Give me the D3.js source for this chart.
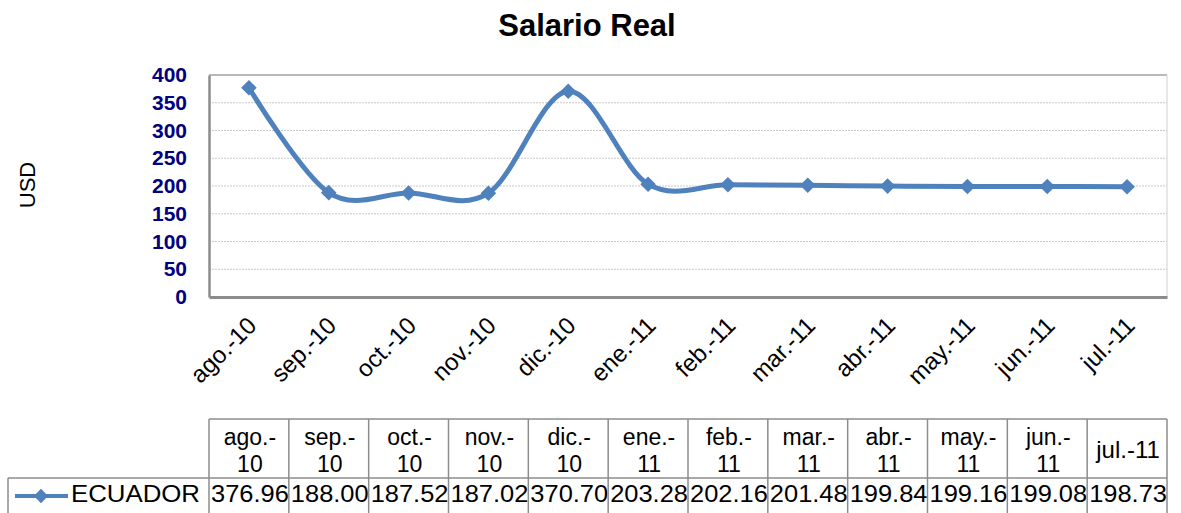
<!DOCTYPE html>
<html>
<head>
<meta charset="utf-8">
<script src="https://cdn.jsdelivr.net/npm/d3@7"></script>
<style>
  body { margin: 0; background: #fff; }
  svg { display: block; font-family: "Liberation Sans", Arial, sans-serif; }
</style>
</head>
<body>
<div id="chart"></div>
<script>
// Data
const months = ["ago.-10", "sep.-10", "oct.-10", "nov.-10", "dic.-10", "ene.-11",
  "feb.-11", "mar.-11", "abr.-11", "may.-11", "jun.-11", "jul.-11"];
const ecuador = [376.96, 188.00, 187.52, 187.02, 370.70, 203.28,
  202.16, 201.48, 199.84, 199.16, 199.08, 198.73];
const yTicks = [0, 50, 100, 150, 200, 250, 300, 350, 400];

const W = 1181, H = 513;
const plot = { left: 209, right: 1167, top: 75, bottom: 297 };
const blue = "#4F81BD";
const font = "Liberation Sans, Arial, sans-serif";

const svg = d3.select("#chart").append("svg")
  .attr("width", W).attr("height", H);

// Scales
const x = d3.scaleBand().domain(months).range([plot.left, plot.right]);
const y = d3.scaleLinear().domain([0, 400]).range([plot.bottom, plot.top]);

// Title
svg.append("text")
  .attr("x", 587).attr("y", 36)
  .attr("text-anchor", "middle")
  .attr("font-size", 31).attr("font-weight", "bold")
  .text("Salario Real");

// Gridlines
svg.append("g").selectAll("line")
  .data(yTicks.filter(d => d > 0 && d < 400))
  .join("line")
  .attr("x1", plot.left).attr("x2", plot.right)
  .attr("y1", d => y(d)).attr("y2", d => y(d))
  .attr("stroke", "#c8c8c8").attr("stroke-dasharray", "2,1");

// Plot border
svg.append("line").attr("x1", plot.left).attr("x2", plot.right)
  .attr("y1", plot.top).attr("y2", plot.top).attr("stroke", "#a0a0a0").attr("stroke-width", 1.5);
svg.append("line").attr("x1", plot.right).attr("x2", plot.right)
  .attr("y1", plot.top).attr("y2", plot.bottom).attr("stroke", "#d0d0d0");

// Y axis
const yAxis = svg.append("g")
  .attr("transform", `translate(${plot.left},0)`)
  .call(d3.axisLeft(y).tickValues(yTicks).tickSize(0).tickPadding(22));
yAxis.select(".domain").attr("stroke", "#8c8c8c").attr("stroke-width", 2.5);
yAxis.selectAll("text")
  .attr("font-size", 21).attr("font-weight", "bold")
  .attr("fill", "#000080").attr("font-family", font);

// X axis
const xAxis = svg.append("g")
  .attr("transform", `translate(0,${plot.bottom})`)
  .call(d3.axisBottom(x).tickSize(0).tickPadding(0));
xAxis.select(".domain").attr("stroke", "#8c8c8c").attr("stroke-width", 3);
xAxis.selectAll("text")
  .attr("font-size", 24).attr("fill", "#000")
  .attr("font-family", font)
  .attr("text-anchor", "end")
  .attr("y", 0).attr("dy", null)
  .attr("transform", "translate(9,30) rotate(-45)");

// USD label
svg.append("text")
  .attr("transform", "translate(35,185) rotate(-90)")
  .attr("text-anchor", "middle")
  .attr("font-size", 22)
  .text("USD");

// Line
const cx = d => x(d) + x.bandwidth() / 2;
const line = d3.line()
  .x((d, i) => cx(months[i]))
  .y(d => y(d))
  .curve(d3.curveCardinal.tension(0));

svg.append("path")
  .datum(ecuador)
  .attr("d", line)
  .attr("fill", "none")
  .attr("stroke", blue)
  .attr("stroke-width", 5)
  .attr("stroke-linejoin", "round");

const diamond = d3.symbol().type(d3.symbolDiamond2).size(155);
svg.append("g").selectAll("path")
  .data(ecuador)
  .join("path")
  .attr("d", diamond)
  .attr("transform", (d, i) => `translate(${cx(months[i])},${y(d)})`)
  .attr("fill", blue);

// Data table
const tTop = 419, tMid = 478, tBot = 530;
const tbl = svg.append("g").attr("font-size", 24);
const gridColor = "#8c8c8c";

months.forEach((m, i) => {
  const x0 = x(m), x1 = x0 + x.bandwidth();
  const parts = m.split("-");
  const cxm = (x0 + x1) / 2 + 1;
  if (i < months.length - 1) {
    tbl.append("text").attr("x", cxm).attr("y", 445)
      .attr("text-anchor", "middle").attr("font-size", 23).text(parts[0] + "-");
    tbl.append("text").attr("x", cxm).attr("y", 472)
      .attr("text-anchor", "middle").attr("font-size", 23).text(parts[1]);
  } else {
    tbl.append("text").attr("x", cxm).attr("y", 458)
      .attr("text-anchor", "middle").text(m);
  }
  tbl.append("text").attr("x", cxm).attr("y", 502)
    .attr("text-anchor", "middle")
    .attr("textLength", x.bandwidth() - 2).attr("lengthAdjust", "spacingAndGlyphs")
    .text(ecuador[i].toFixed(2));
});

// table grid lines
const vx = months.map(m => x(m)).concat([plot.right]);
vx.forEach(v => {
  tbl.append("line").attr("x1", v).attr("x2", v)
    .attr("y1", tTop).attr("y2", tBot).attr("stroke", gridColor).attr("stroke-width", 1.5);
});
tbl.append("line").attr("x1", plot.left).attr("x2", plot.right)
  .attr("y1", tTop).attr("y2", tTop).attr("stroke", gridColor).attr("stroke-width", 1.5);
tbl.append("line").attr("x1", 8).attr("x2", plot.right)
  .attr("y1", tMid).attr("y2", tMid).attr("stroke", gridColor).attr("stroke-width", 1.5);
tbl.append("line").attr("x1", 8).attr("x2", 8)
  .attr("y1", tMid).attr("y2", tBot).attr("stroke", gridColor).attr("stroke-width", 1.5);

// legend key in table
const ky = 496;
tbl.append("line").attr("x1", 15).attr("x2", 68).attr("y1", ky).attr("y2", ky)
  .attr("stroke", blue).attr("stroke-width", 4);
tbl.append("path").attr("d", d3.symbol().type(d3.symbolDiamond2).size(130))
  .attr("transform", `translate(41,${ky})`).attr("fill", blue);
tbl.append("text").attr("x", 71).attr("y", 502)
  .attr("textLength", 129).attr("lengthAdjust", "spacingAndGlyphs")
  .text("ECUADOR");
</script>
</body>
</html>
